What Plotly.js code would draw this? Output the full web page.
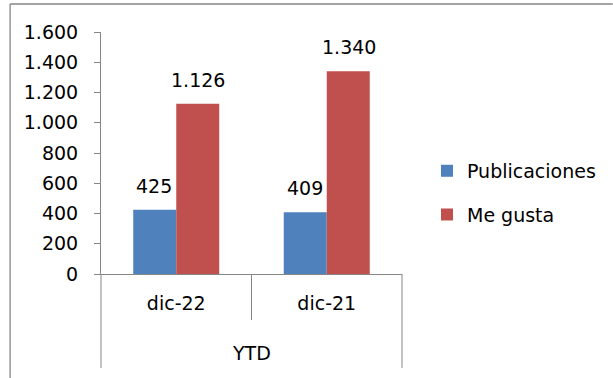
<!DOCTYPE html>
<html><head><meta charset="utf-8">
<script src="https://cdn.plot.ly/plotly-3.0.1.min.js"></script>
<style>html,body{margin:0;padding:0;background:#fff}#chart{width:613px;height:378px}</style>
</head><body><div id="chart"></div>
<script>
const categories = ["dic-22", "dic-21"];
const groupLabel = "YTD";
const seriesNames = ["Publicaciones", "Me gusta"];
const publicaciones = [425, 409];
const meGusta = [1126, 1340];
const yTicks = [0, 200, 400, 600, 800, 1000, 1200, 1400, 1600];

const FONT = "'DejaVu Sans', sans-serif";
const FS = 19;
const colors = ["#4F81BD", "#C0504D"];
const series = [publicaciones, meGusta];

const traces = series.map((vals, i) => ({
  type: "bar", x: categories, y: vals, name: seriesNames[i],
  marker: {color: colors[i], line: {width: 0}},
  legendgroup: "g" + i, hoverinfo: "skip"
}));

const annotations = [];
series.forEach((vals, i) => {
  vals.forEach((v, j) => {
    annotations.push({
      x: categories[j], y: v, xref: "x", yref: "y",
      text: v.toLocaleString("de-DE"),
      showarrow: false, xshift: i === 0 ? -22 : 22, yshift: 24, yanchor: "middle",
      font: {family: FONT, size: FS, color: "#000"}
    });
  });
});
annotations.push({
  x: 0.5, y: -0.326, xref: "paper", yref: "paper", text: groupLabel,
  showarrow: false, yanchor: "middle", font: {family: FONT, size: FS, color: "#000"}
});

const gray = "#868686";
const shapes = [
  {type: "line", xref: "paper", yref: "paper", x0: 0, x1: 0, y0: 0, y1: -0.388, line: {color: gray, width: 1}},
  {type: "line", xref: "paper", yref: "paper", x0: 0.5, x1: 0.5, y0: 0, y1: -0.19, line: {color: gray, width: 1}},
  {type: "line", xref: "paper", yref: "paper", x0: 1, x1: 1, y0: 0, y1: -0.388, line: {color: gray, width: 1}},
  {type: "line", xref: "paper", yref: "paper", x0: -0.302, x1: 1.7, y0: 1.1157, y1: 1.1157, line: {color: gray, width: 1.3}},
  {type: "line", xref: "paper", yref: "paper", x0: -0.302, x1: -0.302, y0: 1.1157, y1: -0.5, line: {color: gray, width: 1.3}}
];

const layout = {
  width: 613, height: 378,
  margin: {l: 101, r: 204, t: 32, b: 104},
  paper_bgcolor: "#fff", plot_bgcolor: "#fff",
  separators: ",.",
  font: {family: FONT, size: FS, color: "#000"},
  barmode: "group", bargap: 0.4286, bargroupgap: 0,
  xaxis: {
    type: "category", range: [-0.5, 1.5], showline: true, linecolor: gray, linewidth: 1,
    ticks: "", showgrid: false, zeroline: false, ticklabelstandoff: 12,
    tickfont: {family: FONT, size: FS, color: "#000"}
  },
  yaxis: {
    range: [0, 1600], tickvals: yTicks, tickformat: ",d",
    showline: true, linecolor: gray, linewidth: 1, ticks: "outside", ticklen: 6, tickcolor: gray,
    showgrid: false, zeroline: false, ticklabelstandoff: 12,
    tickfont: {family: FONT, size: FS, color: "#000"}
  },
  legend: {
    x: 1.083, xanchor: "left", y: 0.335, yanchor: "middle",
    traceorder: "grouped", tracegroupgap: 16,
    font: {family: FONT, size: FS, color: "#000"}, bgcolor: "rgba(0,0,0,0)"
  },
  showlegend: true,
  annotations: annotations, shapes: shapes
};

Plotly.newPlot("chart", traces, layout, {displayModeBar: false, staticPlot: true});
</script></body></html>
